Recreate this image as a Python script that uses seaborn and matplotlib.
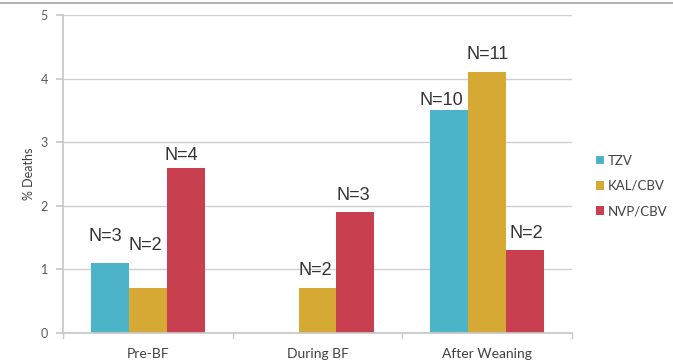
import matplotlib
matplotlib.use("Agg")
import matplotlib.pyplot as plt
import seaborn as sns
import pandas as pd
from matplotlib.patches import Patch
from matplotlib.lines import Line2D

# Data
periods = ["Pre-BF", "During BF", "After Weaning"]
regimens = ["TZV", "KAL/CBV", "NVP/CBV"]
tzv_deaths = [1.1, None, 3.5]
kal_deaths = [0.7, 0.7, 4.1]
nvp_deaths = [2.6, 1.9, 1.3]
tzv_n = ["N=3", None, "N=10"]
kal_n = ["N=2", "N=2", "N=11"]
nvp_n = ["N=4", "N=3", "N=2"]
y_ticks = [0, 1, 2, 3, 4, 5]

colors = ["#4db3c9", "#d5a934", "#c8404f"]

rows = []
for reg, vals, ns in zip(regimens, [tzv_deaths, kal_deaths, nvp_deaths],
                         [tzv_n, kal_n, nvp_n]):
    for per, v, n in zip(periods, vals, ns):
        if v is not None:
            rows.append({"period": per, "regimen": reg, "deaths": v, "n": n})
df = pd.DataFrame(rows)

sns.set_theme(style="white")
plt.rcParams["font.family"] = ["Lato", "DejaVu Sans"]

fig = plt.figure(figsize=(6.73, 3.64), dpi=100)
ax = fig.add_axes([63 / 673, 1 - 333 / 364, (572 - 63) / 673, (333 - 15) / 364])

sns.barplot(data=df, x="period", y="deaths", hue="regimen",
            order=periods, hue_order=regimens, palette=colors,
            width=0.67, gap=0, saturation=1, errorbar=None,
            linewidth=0, edgecolor="none", legend=False, ax=ax)

ax.set_ylim(0, 5)
ax.set_xlim(-0.5, 2.5)
ax.set_yticks(y_ticks)
ax.set_yticklabels([str(t) for t in y_ticks], fontsize=9, color="#595959")
ax.yaxis.grid(True, color="#cfcfcf", linewidth=1)
ax.set_axisbelow(True)

for s in ["top", "right"]:
    ax.spines[s].set_visible(False)
ax.spines["left"].set_color("#c8c8c8")
ax.spines["bottom"].set_color("#c8c8c8")

# category labels below, boundary ticks on the x axis
ax.set_xticks([0, 1, 2])
ax.set_xticklabels(periods, fontsize=10, color="#404040")
ax.tick_params(axis="x", length=0, pad=11)
ax.tick_params(axis="y", length=5, color="#c8c8c8", left=True, pad=6)
for xb in [-0.5, 0.5, 1.5, 2.5]:
    ax.add_line(Line2D([xb, xb], [0, -0.08], color="#c8c8c8", lw=1,
                       clip_on=False))

ax.set_xlabel("")
ax.set_ylabel("% Deaths", fontsize=9, color="#404040", labelpad=4)

# "N=" annotations above each bar, offsets in pixels
offsets = {
    ("TZV", "Pre-BF"): (-5, 27), ("KAL/CBV", "Pre-BF"): (-3, 43),
    ("NVP/CBV", "Pre-BF"): (-4, 12),
    ("KAL/CBV", "During BF"): (-2, 18), ("NVP/CBV", "During BF"): (-2, 17),
    ("TZV", "After Weaning"): (-8, 10), ("KAL/CBV", "After Weaning"): (0, 18),
    ("NVP/CBV", "After Weaning"): (1, 17),
}
for cont, reg in zip(ax.containers, regimens):
    sub = df[df.regimen == reg].set_index("period").reindex(periods).dropna()
    for bar, (per, row) in zip(cont, sub.iterrows()):
        dx, dy = offsets[(reg, per)]
        ax.annotate(row["n"], xy=(bar.get_x() + bar.get_width() / 2, bar.get_height()),
                    xytext=(dx * 0.72, dy * 0.72), textcoords="offset points",
                    ha="center", va="center", fontsize=13,
                    family=["Liberation Sans", "DejaVu Sans"], color="#333333")

handles = [Patch(facecolor=c, edgecolor="none") for c in colors]
fig.legend(handles, regimens, loc="center left",
           bbox_to_anchor=(589 / 673, 1 - 186 / 364), frameon=False,
           fontsize=9.5, handlelength=0.6, handleheight=0.6, handletextpad=0.3,
           labelspacing=1.0, labelcolor="#404040", borderpad=0)

# thin border strip at the top of the image
fig.add_artist(Line2D([0, 1], [1 - 2.5 / 364] * 2, color="#b5b5b5", lw=1.5,
                      transform=fig.transFigure))

fig.savefig("out.png", dpi=100)
